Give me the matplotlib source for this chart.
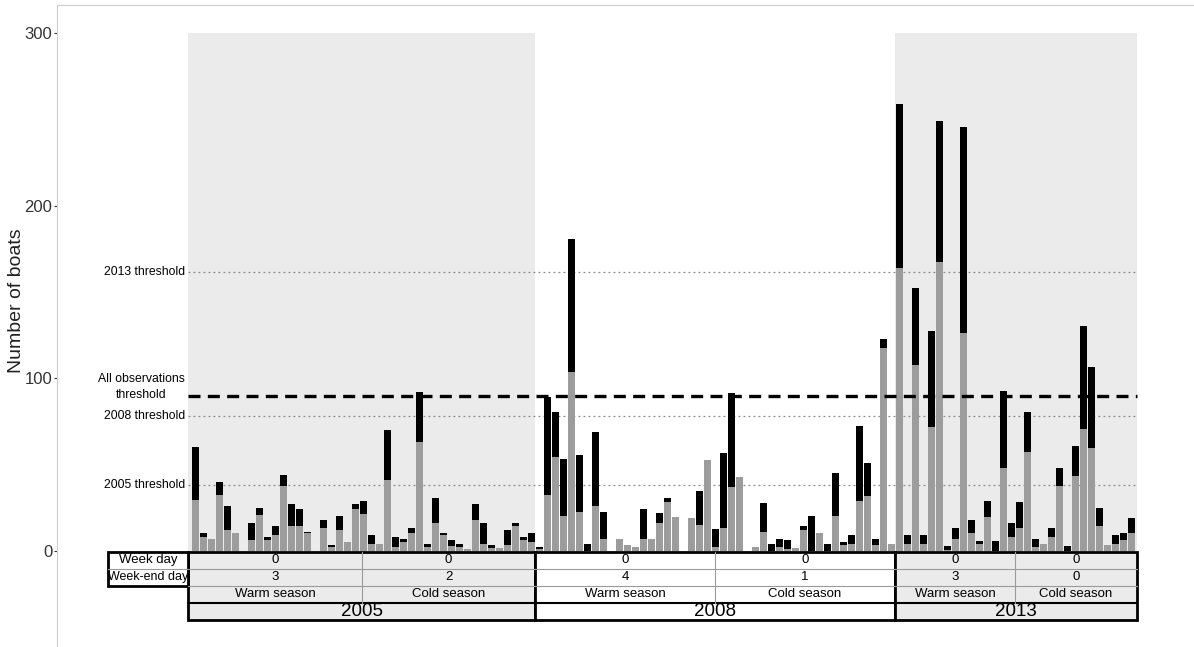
import numpy as np
import matplotlib.pyplot as plt
from matplotlib.patches import Rectangle

plt.rcParams['font.family'] = ['Liberation Sans', 'DejaVu Sans']

# daily counts: total height of each bar and its gray (lower) part, one slot per day
total_2005 = [60, 10.2, 7, 39.8, 26, 10.2, 0, 16, 25, 8, 14.3, 44, 27.2, 24.3, 11.2, 0,
              18, 3.5, 20.3, 5, 27, 29, 9.5, 4, 70, 8.3, 7, 13.3, 92, 4.2, 31, 10.4,
              6.2, 4.2, 1, 27.2, 16, 3.5, 2, 12.2, 16.2, 8.1, 10.2]
gray_2005 = [29.6, 7.9, 7, 32.3, 12, 10.2, 0, 6.2, 21, 6.4, 9.3, 37.9, 14.3, 14.3, 10.2, 0,
             13.1, 2.1, 12.2, 5, 24.3, 21.4, 4, 4, 41, 2.1, 5.2, 10.2, 63, 2.1, 16, 9.5,
             2.9, 2.1, 1, 17.8, 4.2, 2, 2, 3.5, 14.7, 6.4, 5.4]

total_2008 = [2.1, 89.5, 80.8, 53.1, 180.7, 55.8, 4, 68.8, 22.8, 0, 6.8, 3.3, 2.1, 24.1, 6.8,
              21.8, 31, 19.9, 0, 19, 35, 53, 13, 57, 91.8, 43.1, 0, 2.1, 28, 3.9, 6.8,
              6.4, 2, 14.5, 20, 10.2, 3.9, 45, 5.2, 9.1, 72.6, 50.8, 6.8, 123, 4]
gray_2008 = [1.2, 32.3, 54.7, 20.3, 103.8, 22.8, 0, 26, 7, 0, 6.8, 3.3, 2.1, 6.8, 6.8,
             16, 28.6, 19.9, 0, 19, 15, 53, 2.5, 13.1, 37.3, 43.1, 0, 2.1, 11.2, 0, 2.5,
             1.4, 2, 12.2, 0, 10.2, 0, 20.3, 3.5, 4, 29, 32.1, 3.3, 117.5, 4]

total_2013 = [259, 9.3, 152.5, 9.3, 127.7, 249.5, 3.1, 13.1, 245.6, 18, 6, 29, 6, 92.9, 16,
              28.2, 80.8, 7.2, 3.9, 13.1, 47.9, 3.1, 61, 130.6, 106.8, 24.7, 3.5, 9.3,
              10.2, 19]
gray_2013 = [164, 4, 107.8, 4, 72.1, 167.3, 0.5, 6.8, 126.6, 10.2, 4, 19.9, 0, 47.9, 7.9,
             13.1, 57.2, 2.5, 3.9, 7.9, 37.7, 0, 43.7, 70.5, 59.9, 14.7, 3.5, 4, 6.4, 10.2]

years = ['2005', '2008', '2013']
seasons = ['Warm season', 'Cold season']
week_day = [0, 0, 0, 0, 0, 0]
week_end_day = [3, 2, 4, 1, 3, 0]

threshold_names = ['2013 threshold', '2008 threshold', '2005 threshold']
threshold_values = [162, 78, 38]
all_obs_threshold = 90

total = np.array(total_2005 + total_2008 + total_2013)
gray = np.array(gray_2005 + gray_2008 + gray_2013)
black = total - gray
x = np.arange(len(total))

n05, n08, n13 = len(total_2005), len(total_2008), len(total_2013)
year_edges = [-0.94, n05 - 0.5, n05 + n08 - 0.5, n05 + n08 + n13 - 0.3]
season_splits = [20.8, 64.9, 102.4]
label_left = -10.9
shade = '#ebebeb'

fig = plt.figure(figsize=(11.94, 6.47), dpi=100)
ax = fig.add_axes([57 / 1194, 0, 1136 / 1194, 642 / 647])

# shaded years
for k in (0, 2):
    ax.add_patch(Rectangle((year_edges[k], 0), year_edges[k + 1] - year_edges[k], 300,
                           facecolor=shade, edgecolor='none', zorder=0))

# dotted year thresholds
for v in threshold_values:
    ax.plot([year_edges[0], year_edges[-1]], [v, v], color='#8a8a8a', lw=0.9,
            linestyle=(0, (1.5, 2.5)), zorder=1)

ax.bar(x, gray, width=0.92, color='#9c9c9c', zorder=2)
ax.bar(x, black, bottom=gray, width=0.92, color='black', zorder=2)

ax.plot([year_edges[0], year_edges[-1]], [all_obs_threshold] * 2, color='black', lw=2.4,
        linestyle=(0, (3.6, 2.2)), zorder=3)

# threshold labels
for name, v in zip(threshold_names, threshold_values):
    ax.text(-1.3, v, name, ha='right', va='center', fontsize=8.8)
ax.text(-1.3, 95, 'All observations\nthreshold', ha='right', va='center', fontsize=8.8,
        multialignment='center', linespacing=1.4)

# table below the bars
r = [-0.5, -10.3, -20.2, -30.1, -40.0]
mid = [(r[i] + r[i + 1]) / 2 for i in range(4)]
for k, yr in enumerate(years):
    x0, x1 = year_edges[k], year_edges[k + 1]
    fill = shade if k != 1 else 'white'
    ax.add_patch(Rectangle((x0, r[4]), x1 - x0, r[0] - r[4], facecolor=fill,
                           edgecolor='black', lw=2, zorder=4))
    for yy in (r[1], r[2]):
        ax.plot([x0, x1], [yy, yy], color='#9a9a9a', lw=0.8, zorder=5)
    ax.plot([x0, x1], [r[3], r[3]], color='black', lw=1.5, zorder=5)
    sp = season_splits[k]
    ax.plot([sp, sp], [r[3], r[0]], color='#9a9a9a', lw=0.8, zorder=5)
    centers = [(x0 + sp) / 2, (sp + x1) / 2]
    for j in range(2):
        ax.text(centers[j], mid[0], str(week_day[2 * k + j]), ha='center', va='center',
                fontsize=9.5, zorder=6)
        ax.text(centers[j], mid[1], str(week_end_day[2 * k + j]), ha='center', va='center',
                fontsize=9.5, zorder=6)
        ax.text(centers[j], mid[2], seasons[j], ha='center', va='center', fontsize=9.5,
                zorder=6)
    ax.text((x0 + x1) / 2, mid[3], yr, ha='center', va='center', fontsize=13.5, zorder=6)

ax.add_patch(Rectangle((label_left, r[2]), year_edges[0] - label_left, r[0] - r[2],
                       facecolor='white', edgecolor='black', lw=2, zorder=4))
ax.plot([label_left, year_edges[0]], [r[1], r[1]], color='#9a9a9a', lw=0.8, zorder=5)
lab_c = (label_left + year_edges[0]) / 2
ax.text(lab_c, mid[0], 'Week day', ha='center', va='center', fontsize=9.5, zorder=6)
ax.text(lab_c, mid[1], 'Week-end day', ha='center', va='center', fontsize=9, zorder=6)

ax.set_xlim(-17.31, 124.69)
ax.set_ylim(-55.65, 316.5)
ax.set_xticks([])
ax.set_yticks([0, 100, 200, 300])
ax.tick_params(axis='y', labelsize=12, colors='#333333', length=2.5, pad=1)
for s in ('right', 'bottom'):
    ax.spines[s].set_visible(False)
for s in ('left', 'top'):
    ax.spines[s].set_color('#cccccc')
ax.set_ylabel('Number of boats', fontsize=14, color='#222222')
ax.yaxis.set_label_coords(-0.028, 0.54)

fig.savefig('out.png', dpi=100)
